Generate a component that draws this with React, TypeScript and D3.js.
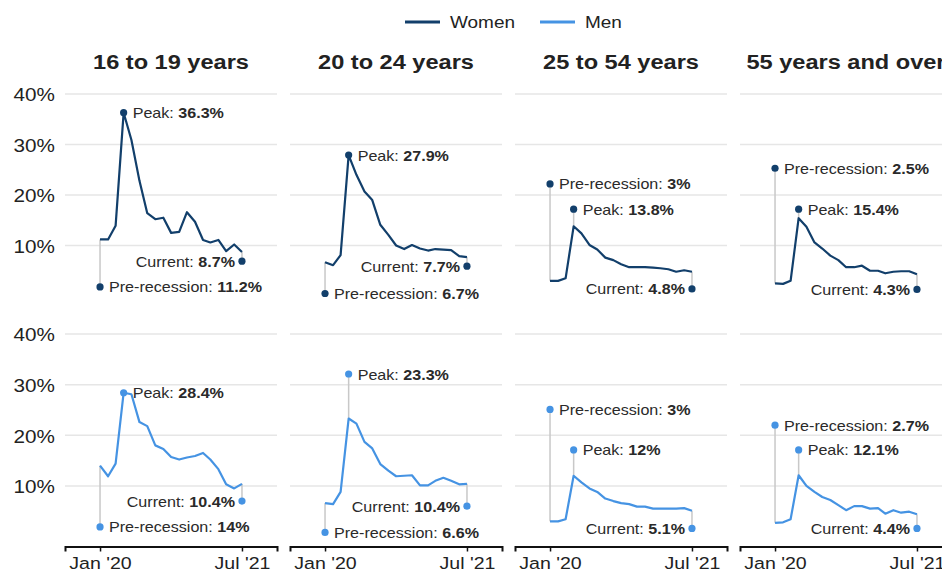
import React, { useEffect, useRef } from "react";
import * as d3 from "d3";

const WIDTH = 942;
const HEIGHT = 572;
const PANEL_LEFT = [65, 290, 515, 740];
const PANEL_W = 212;
const ROW_TOP = [94, 334]; // y of 40%
const ROW_ZERO = [296, 536.5]; // y of 0%
const AXIS_Y = 546.5;
const SX = 1.15; // the text in the picture is a bit wide
const FONT = "'Liberation Sans', Arial, sans-serif";

const WOMEN_COLOR = "#123f6b";
const MEN_COLOR = "#4593e3";

const AGE_GROUPS = ["16 to 19 years", "20 to 24 years", "25 to 54 years", "55 years and over"];
const Y_TICKS = [10, 20, 30, 40];

const MONTHS = [
  "2020-01", "2020-02", "2020-03", "2020-04", "2020-05", "2020-06", "2020-07",
  "2020-08", "2020-09", "2020-10", "2020-11", "2020-12", "2021-01", "2021-02",
  "2021-03", "2021-04", "2021-05", "2021-06", "2021-07",
];
const X_TICKS = ["2020-01", "2021-07"];

// unemployment rate, %
const WOMEN_16_19 = [11.2, 11.2, 13.9, 36.3, 30.9, 22.8, 16.4, 15.2, 15.5, 12.5, 12.7, 16.6, 14.7, 11.1, 10.6, 11.1, 8.9, 10.2, 8.7];
const WOMEN_20_24 = [6.7, 6.1, 8.1, 27.9, 24.0, 20.7, 19.0, 14.1, 12.1, 10.0, 9.3, 10.1, 9.4, 9.0, 9.3, 9.2, 9.1, 7.9, 7.7];
const WOMEN_25_54 = [3.0, 3.0, 3.5, 13.8, 12.4, 10.1, 9.2, 7.6, 7.1, 6.3, 5.7, 5.7, 5.7, 5.6, 5.5, 5.3, 4.8, 5.1, 4.8];
const WOMEN_55 = [2.5, 2.4, 3.0, 15.4, 13.7, 10.6, 9.4, 8.0, 7.1, 5.7, 5.7, 6.0, 5.0, 5.0, 4.5, 4.8, 4.9, 4.9, 4.3];
const MEN_16_19 = [14.0, 11.9, 14.4, 28.4, 28.1, 22.6, 21.8, 18.0, 17.3, 15.7, 15.2, 15.6, 15.9, 16.5, 15.2, 13.3, 10.3, 9.5, 10.4];
const MEN_20_24 = [6.6, 6.4, 8.8, 23.3, 22.3, 18.7, 17.4, 14.3, 13.0, 11.9, 12.0, 12.1, 10.1, 10.1, 11.0, 11.6, 11.0, 10.3, 10.4];
const MEN_25_54 = [3.0, 3.0, 3.4, 12.0, 10.7, 9.5, 8.8, 7.5, 7.0, 6.6, 6.4, 5.9, 5.9, 5.5, 5.5, 5.5, 5.5, 5.6, 5.1];
const MEN_55 = [2.7, 2.8, 3.4, 12.1, 10.0, 8.8, 7.8, 7.2, 6.2, 5.2, 6.0, 6.0, 5.5, 5.6, 4.5, 5.2, 4.7, 4.9, 4.4];

// annotation values as printed
const WOMEN_PRE = ["11.2", "6.7", "3", "2.5"];
const WOMEN_PEAK = ["36.3", "27.9", "13.8", "15.4"];
const WOMEN_CURRENT = ["8.7", "7.7", "4.8", "4.3"];
const MEN_PRE = ["14", "6.6", "3", "2.7"];
const MEN_PEAK = ["28.4", "23.3", "12", "12.1"];
const MEN_CURRENT = ["10.4", "10.4", "5.1", "4.4"];

// where the annotation dot sits, in % on the y scale
const WOMEN_PRE_AT = [1.8, 0.5, 22.2, 25.3];
const WOMEN_PEAK_AT = [36.3, 27.9, 17.2, 17.2];
const WOMEN_CURRENT_AT = [6.9, 5.9, 1.4, 1.3];
const MEN_PRE_AT = [1.9, 0.8, 25.1, 22.0];
const MEN_PEAK_AT = [28.4, 32.1, 17.1, 17.1];
const MEN_CURRENT_AT = [7.0, 6.0, 1.6, 1.6];

const parseMonth = d3.timeParse("%Y-%m");
const dates = MONTHS.map((m) => parseMonth(m) as Date);
const tickDates = X_TICKS.map((m) => parseMonth(m) as Date);

const xScale = d3
  .scaleTime()
  .domain([d3.timeDay.offset(dates[0], -135), d3.timeDay.offset(dates[dates.length - 1], 135)])
  .range([0, PANEL_W]);

const rows = [
  {
    color: WOMEN_COLOR,
    series: [WOMEN_16_19, WOMEN_20_24, WOMEN_25_54, WOMEN_55],
    pre: WOMEN_PRE, peak: WOMEN_PEAK, current: WOMEN_CURRENT,
    preAt: WOMEN_PRE_AT, peakAt: WOMEN_PEAK_AT, currentAt: WOMEN_CURRENT_AT,
  },
  {
    color: MEN_COLOR,
    series: [MEN_16_19, MEN_20_24, MEN_25_54, MEN_55],
    pre: MEN_PRE, peak: MEN_PEAK, current: MEN_CURRENT,
    preAt: MEN_PRE_AT, peakAt: MEN_PEAK_AT, currentAt: MEN_CURRENT_AT,
  },
];

const Txt = ({ x, y, anchor = "start", size, weight = "normal", fill = "#222", children }: any) => (
  <g transform={`translate(${x},${y}) scale(${SX},1)`}>
    <text
      textAnchor={anchor}
      dominantBaseline="central"
      fontSize={size}
      fontWeight={weight}
      fill={fill}
      fontFamily={FONT}
    >
      {children}
    </text>
  </g>
);

const Note = ({ x, y, anchor, label, value }: any) => (
  <Txt x={x} y={y} anchor={anchor} size={14} fill="#2a2a2a">
    <tspan>{label}: </tspan>
    <tspan fontWeight="bold">{value}%</tspan>
  </Txt>
);

const Axis = ({ left }: { left: number }) => {
  const ref = useRef<SVGGElement>(null);
  useEffect(() => {
    const g = d3.select(ref.current);
    g.selectAll("*").remove();
    g.call(
      d3
        .axisBottom(xScale)
        .tickValues(tickDates)
        .tickSizeOuter(0)
        .tickSize(5)
        .tickFormat((d) => d3.timeFormat("%b '%y")(d as Date))
    );
    g.select(".domain").attr("stroke", "#111").attr("stroke-width", 2);
    g.selectAll(".tick line").attr("stroke", "#111").attr("stroke-width", 1.5);
    g.selectAll(".tick text")
      .attr("font-size", 17)
      .attr("font-family", FONT)
      .attr("fill", "#222")
      .attr("y", 10)
      .attr("transform", `scale(${SX},1)`);
  }, []);
  return <g ref={ref} transform={`translate(${left},${AXIS_Y})`} />;
};

export default function App() {
  return (
    <svg
      width={WIDTH}
      height={HEIGHT}
      style={{ position: "absolute", left: 0, top: 0, background: "#fff" }}
    >
      {/* legend */}
      <line x1={405} x2={440} y1={22} y2={22} stroke={WOMEN_COLOR} strokeWidth={3} />
      <Txt x={450} y={22} size={16.5}>Women</Txt>
      <line x1={540} x2={575} y1={22} y2={22} stroke={MEN_COLOR} strokeWidth={3} />
      <Txt x={585} y={22} size={16.5}>Men</Txt>

      {AGE_GROUPS.map((g, i) => (
        <Txt key={g} x={PANEL_LEFT[i] + PANEL_W / 2} y={62} anchor="middle" size={20.5} weight="bold">
          {g}
        </Txt>
      ))}

      {rows.map((row, r) => {
        const yScale = d3.scaleLinear().domain([0, 40]).range([ROW_ZERO[r], ROW_TOP[r]]);
        const line = d3
          .line<number>()
          .x((_, j) => xScale(dates[j]))
          .y((d) => yScale(d));
        return (
          <g key={r}>
            {/* y tick labels on the first panel only */}
            {Y_TICKS.map((t) => (
              <Txt key={t} x={55} y={yScale(t) + 1} anchor="end" size={18}>
                {t}%
              </Txt>
            ))}
            {row.series.map((values, i) => {
              const peakIdx = d3.maxIndex(values);
              const last = values.length - 1;
              const xPre = xScale(dates[0]);
              const xPeak = xScale(dates[peakIdx]);
              const xCur = xScale(dates[last]);
              const notes = [
                { x: xPre, from: values[0], at: row.preAt[i] },
                { x: xPeak, from: values[peakIdx], at: row.peakAt[i] },
                { x: xCur, from: values[last], at: row.currentAt[i] },
              ];
              return (
                <g key={i} transform={`translate(${PANEL_LEFT[i]},0)`}>
                  {Y_TICKS.map((t) => (
                    <line
                      key={t}
                      x1={0}
                      x2={PANEL_W}
                      y1={yScale(t)}
                      y2={yScale(t)}
                      stroke="#e6e6e6"
                      strokeWidth={1.5}
                    />
                  ))}
                  {notes.map((n, k) => (
                    <line
                      key={k}
                      x1={n.x}
                      x2={n.x}
                      y1={yScale(n.from)}
                      y2={yScale(n.at)}
                      stroke="#c8c8c8"
                      strokeWidth={1.5}
                    />
                  ))}
                  <path
                    d={line(values) ?? ""}
                    fill="none"
                    stroke={row.color}
                    strokeWidth={2.2}
                    strokeLinejoin="round"
                  />
                  {notes.map((n, k) => (
                    <circle key={k} cx={n.x} cy={yScale(n.at)} r={3.6} fill={row.color} />
                  ))}
                  <Note x={xPre + 9} y={yScale(row.preAt[i])} anchor="start" label="Pre-recession" value={row.pre[i]} />
                  <Note x={xPeak + 9} y={yScale(row.peakAt[i])} anchor="start" label="Peak" value={row.peak[i]} />
                  <Note x={xCur - 7} y={yScale(row.currentAt[i])} anchor="end" label="Current" value={row.current[i]} />
                  {r === 1 && <Axis left={0} />}
                </g>
              );
            })}
          </g>
        );
      })}
    </svg>
  );
}
